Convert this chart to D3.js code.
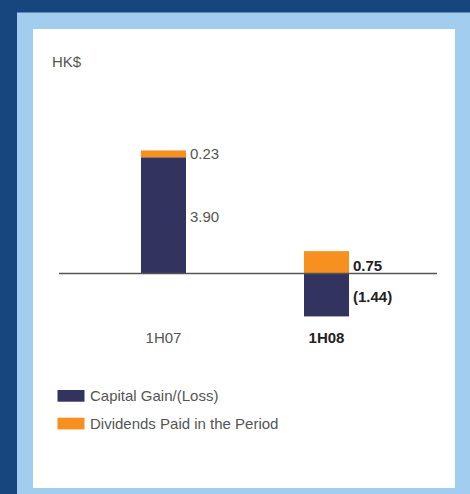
<!DOCTYPE html>
<html><head><meta charset="utf-8">
<script src="https://cdn.jsdelivr.net/npm/d3@7"></script>
<style>html,body{margin:0;padding:0;background:#17467f;}svg{display:block;}</style>
</head><body>
<script>
const categories = ["1H07", "1H08"];
const capitalGain = [3.90, -1.44];
const dividends = [0.23, 0.75];
const capitalLabels = ["3.90", "(1.44)"];
const dividendLabels = ["0.23", "0.75"];
const seriesNames = ["Capital Gain/(Loss)", "Dividends Paid in the Period"];
const unitLabel = "HK$";

const W = 470, H = 494;
const colDark = "#33335f", colOrange = "#f7901e";
const font = "'Liberation Sans', Arial, Helvetica, sans-serif";
const fs = 15;

const svg = d3.select("body").append("svg").attr("width", W).attr("height", H);
svg.append("rect").attr("width", W).attr("height", H).attr("fill", "#17467f");
svg.append("rect").attr("x", 17).attr("y", 12.5).attr("width", W - 17).attr("height", H - 12.5).attr("fill", "#a3cdee");
svg.append("rect").attr("x", 33).attr("y", 29).attr("width", 422).attr("height", 459).attr("fill", "#ffffff");

const y = d3.scaleLinear().domain([-2, 5]).range([273.5 + 2 * 29.8, 273.5 - 5 * 29.8]);
const x = d3.scalePoint().domain(categories).range([163.5, 326.5]);
const bw = 45;

svg.append("text").attr("x", 52).attr("y", 67).attr("font-family", font).attr("font-size", fs)
  .attr("fill", "#555").text(unitLabel);

categories.forEach((c, i) => {
  const cg = capitalGain[i], dv = dividends[i];
  const cgTop = Math.max(0, cg), cgBot = Math.min(0, cg);
  svg.append("rect").attr("x", x(c) - bw / 2).attr("width", bw)
    .attr("y", y(cgTop)).attr("height", y(cgBot) - y(cgTop)).attr("fill", colDark);
  const base = Math.max(0, cg);
  svg.append("rect").attr("x", x(c) - bw / 2).attr("width", bw)
    .attr("y", y(base + dv)).attr("height", y(base) - y(base + dv)).attr("fill", colOrange);
  const bold = i === 1;
  const lx = x(c) + bw / 2 + 4;
  svg.append("text").attr("x", lx).attr("y", i === 0 ? y(base + dv / 2) : y(dv / 2) + 3)
    .attr("dy", "0.35em").attr("font-family", font).attr("font-size", fs)
    .attr("font-weight", bold ? "bold" : "normal").attr("fill", bold ? "#222" : "#555")
    .text(dividendLabels[i]);
  svg.append("text").attr("x", lx).attr("y", i === 0 ? y(cg * 0.5) + 1 : y(cg * 0.55))
    .attr("dy", "0.35em").attr("font-family", font).attr("font-size", fs)
    .attr("font-weight", bold ? "bold" : "normal").attr("fill", bold ? "#222" : "#555")
    .text(capitalLabels[i]);
  svg.append("text").attr("x", x(c)).attr("y", 338).attr("dy", "0.35em")
    .attr("text-anchor", "middle").attr("font-family", font).attr("font-size", fs)
    .attr("font-weight", bold ? "bold" : "normal").attr("fill", bold ? "#222" : "#555")
    .text(c);
});

svg.append("line").attr("x1", 59).attr("x2", 437).attr("y1", y(0)).attr("y2", y(0))
  .attr("stroke", "#555").attr("stroke-width", 1.5);

[colDark, colOrange].forEach((col, i) => {
  const ly = 390 + i * 27.7;
  svg.append("rect").attr("x", 57.5).attr("y", ly).attr("width", 27).attr("height", 11.7).attr("fill", col);
  svg.append("text").attr("x", 90).attr("y", ly + 5.8).attr("dy", "0.35em")
    .attr("font-family", font).attr("font-size", fs).attr("fill", "#555").text(seriesNames[i]);
});
</script>
</body></html>
